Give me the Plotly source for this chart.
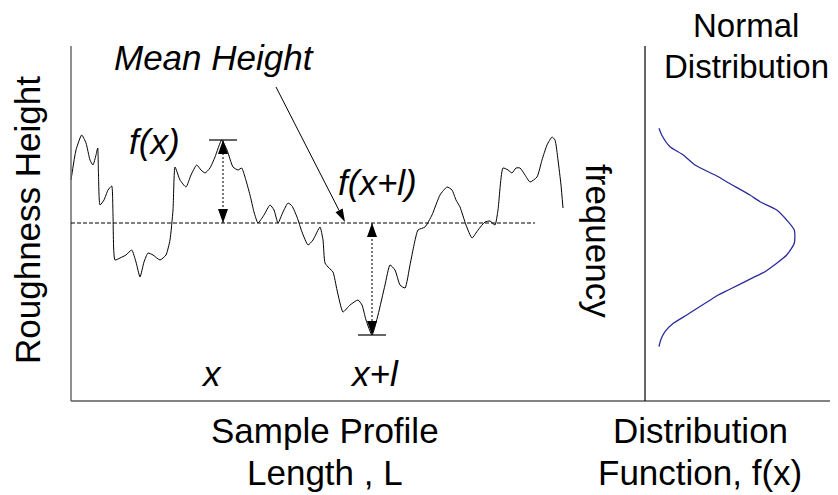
import math
import plotly.graph_objects as go

# reference canvas is 838x495; the page body adds an 8px margin, so the figure is drawn 8px smaller
REF_W, REF_H = 838, 495
OFF = 8
W, H = REF_W - OFF, REF_H - OFF

# ---------------- data ----------------
# sample profile: position along the sample length L, and height relative to the mean height
profile_length = [0, 5, 10.7, 15, 19, 22, 25, 26.7, 27.5, 29, 33, 37, 40.7, 42, 44, 49, 55, 60.7,
                  65, 69, 73, 77, 82, 89, 95, 99, 102, 104, 109, 115, 120, 125.7, 130, 134, 139,
                  144, 150.7, 156, 162, 167, 170.7, 174, 179, 183, 187, 193, 199, 203, 207, 212,
                  217, 221, 226, 231, 237, 242, 249, 252, 254, 258, 262, 266, 272, 279, 287, 291,
                  295, 301, 307, 314, 319, 324, 329, 334, 339, 343, 347, 354, 361, 369, 376, 381,
                  385, 389, 395, 401, 407, 414, 419, 424, 427, 432, 437, 441, 445, 449, 454, 459,
                  466, 471, 476, 481, 484, 487, 490, 492]
profile_height = [43, 73, 88, 80, 63, 58, 68, 75, 48, 18, 23, 33, 37, 8, -37, -35, -32, -27,
                  -39, -54, -39, -30, -32, -37, -32, -17, 13, 56, 43, 36, 48, 58, 53, 50, 55,
                  66, 83, 73, 56, 53, 55, 46, 28, 11, 0, 8, 18, 13, 0, 11,
                  20, 17, 6, -9, -22, -17, -4, -17, -40, -45, -49, -67, -89, -82, -77, -82,
                  -97, -112, -92, -62, -42, -47, -62, -65, -42, -22, -7, -4, 8, 28, 36, 33,
                  23, 16, -2, -15, -7, 1, 2, -2, 13, 55, 53, 50, 55, 55, 48, 41,
                  46, 63, 78, 86, 83, 63, 38, 15]

mean_height = 0
mean_line_end = 464

# the two marked points x and x+l
x_pos, f_x = 152, 83
xl_pos, f_xl = 301, -112

# normal distribution of heights (frequency vs height)
dist_freq = [14, 16.7, 25, 38.3, 50, 73.3, 83.3, 105, 115, 131.7, 141.7, 149.3,
             149.3, 141.7, 120, 110, 83.3, 73.3, 41.7, 28.3, 20, 15.7, 14]
dist_height = [94.7, 88, 76.3, 68, 58, 46.3, 40.3, 28, 21.3, 13, 3, -7,
               -20.3, -32, -48.7, -53.7, -67, -72, -92, -100.3, -108.7, -117, -123.7]

# ---------------- figure ----------------
FONT = "Liberation Sans, Arial, sans-serif"
FS = 35

# reference pixel positions of the origins
X0_PROFILE = 71 - OFF
X0_DIST = 645 - OFF
Y0 = 223 - OFF


def px(x):
    return (x - OFF) / W


def py(y):
    return 1 - (y - OFF) / H


fig = go.Figure()
fig.add_trace(go.Scatter(x=profile_length, y=profile_height, mode="lines",
                         line=dict(color="black", width=1, shape="spline", smoothing=0.5),
                         xaxis="x", yaxis="y", hoverinfo="skip", showlegend=False))
fig.add_trace(go.Scatter(x=dist_freq, y=dist_height, mode="lines",
                         line=dict(color="#2b2b9c", width=1.3, shape="spline", smoothing=0.6),
                         xaxis="x2", yaxis="y", hoverinfo="skip", showlegend=False))

shapes = []
# axis frame lines
shapes.append(dict(type="line", xref="paper", yref="paper", x0=px(71), x1=px(71), y0=py(46), y1=py(401),
                   line=dict(color="#6a6a6a", width=1.5)))
shapes.append(dict(type="line", xref="paper", yref="paper", x0=px(71), x1=px(838), y0=py(401), y1=py(401),
                   line=dict(color="#5a5a5a", width=1.5)))
shapes.append(dict(type="line", xref="paper", yref="paper", x0=px(645), x1=px(645), y0=py(46), y1=py(401),
                   line=dict(color="black", width=1.2)))
# mean height line
shapes.append(dict(type="line", xref="x", yref="y", x0=0, x1=mean_line_end, y0=mean_height, y1=mean_height,
                   line=dict(color="black", width=1, dash="4px,2px")))


def vmark(x, h):
    # dotted vertical from the mean line to the point, with a bar and arrowheads
    out = []
    out.append(dict(type="line", xref="x", yref="y", x0=x, x1=x, y0=mean_height, y1=h,
                    line=dict(color="#333333", width=1.3, dash="2px,2px")))
    out.append(dict(type="line", xref="x", yref="y", x0=x - 14, x1=x + 14, y0=h, y1=h,
                    line=dict(color="black", width=1.2)))
    for tip in (h, mean_height):
        d = 1 if tip > (h + mean_height) / 2 else -1
        base = tip - d * 14
        out.append(dict(type="path", xref="x", yref="y",
                        path=f"M {x},{tip} L {x - 5},{base} L {x + 5},{base} Z",
                        fillcolor="black", line=dict(width=0)))
    return out


shapes += vmark(x_pos, f_x)
shapes += vmark(xl_pos, f_xl)

# "Mean Height" pointer arrow
tail = (205, 136)
tip = (274, mean_height + 1)
dx, dy = tip[0] - tail[0], tip[1] - tail[1]
L = math.hypot(dx, dy)
ux, uy = dx / L, dy / L
bx, by = tip[0] - 13 * ux, tip[1] - 13 * uy
nx, ny = -uy * 4, ux * 4
shapes.append(dict(type="line", xref="x", yref="y", x0=tail[0], y0=tail[1], x1=bx, y1=by,
                   line=dict(color="black", width=1)))
shapes.append(dict(type="path", xref="x", yref="y",
                   path=f"M {tip[0]},{tip[1]} L {bx + nx},{by + ny} L {bx - nx},{by - ny} Z",
                   fillcolor="black", line=dict(width=0)))

annotations = []


def txt(t, x, y, size=FS, italic=False, angle=0):
    annotations.append(dict(text=t, x=px(x), y=py(y), xref="paper", yref="paper",
                            xanchor="center", yanchor="middle", showarrow=False, textangle=angle,
                            font=dict(family=FONT, size=size, color="black",
                                      style="italic" if italic else "normal")))


txt("Mean Height", 214, 58, italic=True)
txt("f(x)", 154, 141, italic=True)
txt("f(x+l)", 377, 182, italic=True)
txt("x", 211, 373, italic=True)
txt("x+l", 374, 373, italic=True)
txt("frequency", 598, 241, angle=90)
txt("Roughness Height", 27, 220, angle=-90)
txt("Sample Profile", 325, 430)
txt("Length , L", 325, 472)
txt("Distribution", 700, 430)
txt("Function, f(x)", 700, 472)
txt("Normal", 746, 25, size=33)
txt("Distribution", 746, 67, size=33)

fig.update_layout(
    width=W, height=H,
    margin=dict(l=0, r=0, t=0, b=0),
    paper_bgcolor="white", plot_bgcolor="white",
    xaxis=dict(range=[-X0_PROFILE, W - X0_PROFILE], visible=False, domain=[0, 1]),
    xaxis2=dict(range=[-X0_DIST, W - X0_DIST], visible=False, overlaying="x", domain=[0, 1]),
    yaxis=dict(range=[Y0 - H, Y0], visible=False, domain=[0, 1]),
    shapes=shapes,
    annotations=annotations,
    showlegend=False,
)

fig.write_html("out.html")
